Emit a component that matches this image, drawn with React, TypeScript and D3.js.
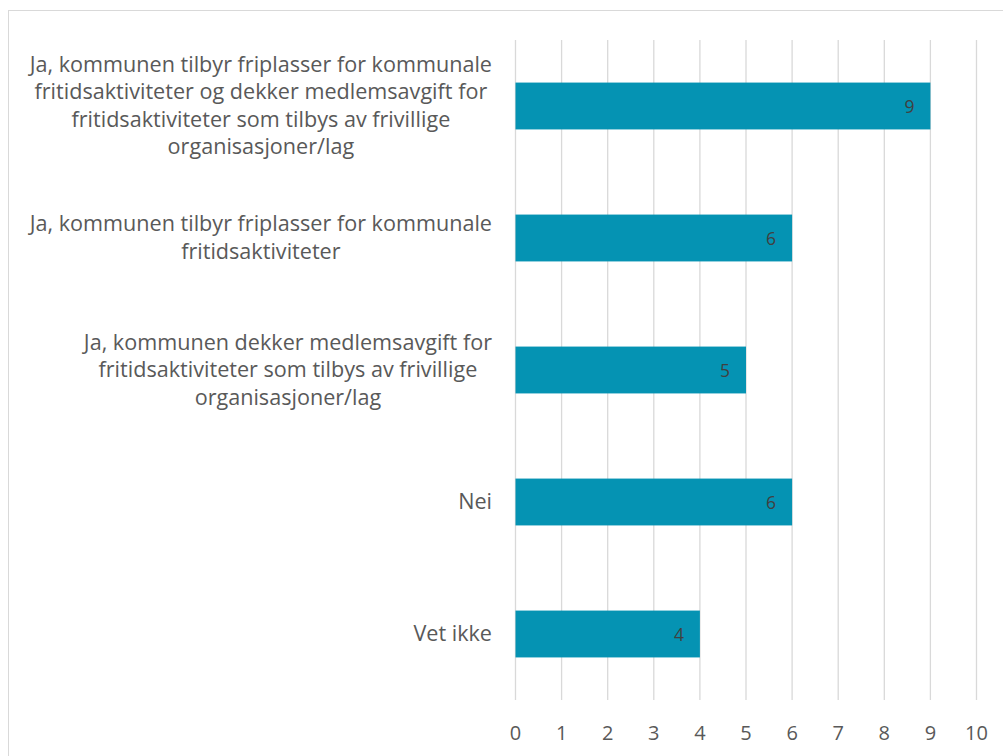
import React from "react";
import * as d3 from "d3";

const categories: string[][] = [
  ["Ja, kommunen tilbyr friplasser for kommunale", "fritidsaktiviteter og dekker medlemsavgift for", "fritidsaktiviteter som tilbys av frivillige", "organisasjoner/lag"],
  ["Ja, kommunen tilbyr friplasser for kommunale", "fritidsaktiviteter"],
  ["Ja, kommunen dekker medlemsavgift for", "fritidsaktiviteter som tilbys av frivillige", "organisasjoner/lag"],
  ["Nei"],
  ["Vet ikke"],
];
const values: number[] = [9, 6, 5, 6, 4];
const ticks: number[] = [0, 1, 2, 3, 4, 5, 6, 7, 8, 9, 10];

const W = 1003;
const H = 756;
const FONT = "'Open Sans', sans-serif";
const LABEL_SIZE = 21.6;

function measure(s: string, size: number): number {
  if (typeof document === "undefined") return s.length * size * 0.5;
  const c = document.createElement("canvas").getContext("2d")!;
  c.font = `${size}px 'Open Sans'`;
  return c.measureText(s).width;
}

export default function App() {
  const x = d3.scaleLinear().domain([0, 10]).range([515.5, 976.5]);
  const idx = categories.map((_, i) => String(i));
  const y = d3.scaleBand().domain(idx).range([40, 700]).paddingInner(0.645).paddingOuter(0.3225);
  const lh = 27.5;
  const right = 492;
  return (
    <svg width={W} height={H} style={{ position: "absolute", left: 0, top: 0 }}>
      <rect x={0} y={0} width={W} height={H} fill="#fff" />
      <rect x={8.5} y={10.5} width={W + 20} height={H + 20} fill="none" stroke="#d9d9d9" strokeWidth={1} />
      {ticks.map((t) => (
        <line key={t} x1={x(t)} x2={x(t)} y1={40} y2={700} stroke="#d9d9d9" strokeWidth={1.3} />
      ))}
      {values.map((v, i) => (
        <rect key={i} x={x(0)} y={y(String(i))!} width={x(v) - x(0)} height={y.bandwidth()} fill="#0593b3" />
      ))}
      {values.map((v, i) => (
        <text key={"l" + i} x={x(v) - 16} y={y(String(i))! + y.bandwidth() / 2} textAnchor="end" dominantBaseline="central" fontFamily={FONT} fontSize={17.5} fill="#404040">{v}</text>
      ))}
      {ticks.map((t) => (
        <text key={"t" + t} x={x(t)} y={732} textAnchor="middle" dominantBaseline="central" fontFamily={FONT} fontSize={20} fill="#595959">{t}</text>
      ))}
      {categories.map((lines, i) => {
        const cy = y(String(i))! + y.bandwidth() / 2;
        const y0 = cy - ((lines.length - 1) * lh) / 2 - 1.5;
        const bw = Math.max(...lines.map((l) => measure(l, LABEL_SIZE)));
        const cx = right - bw / 2;
        return (
          <text key={"c" + i} textAnchor="middle" fontFamily={FONT} fontSize={LABEL_SIZE} fill="#595959">
            {lines.map((ln, j) => (
              <tspan key={j} x={cx} y={y0 + j * lh} dominantBaseline="central">{ln}</tspan>
            ))}
          </text>
        );
      })}
    </svg>
  );
}
